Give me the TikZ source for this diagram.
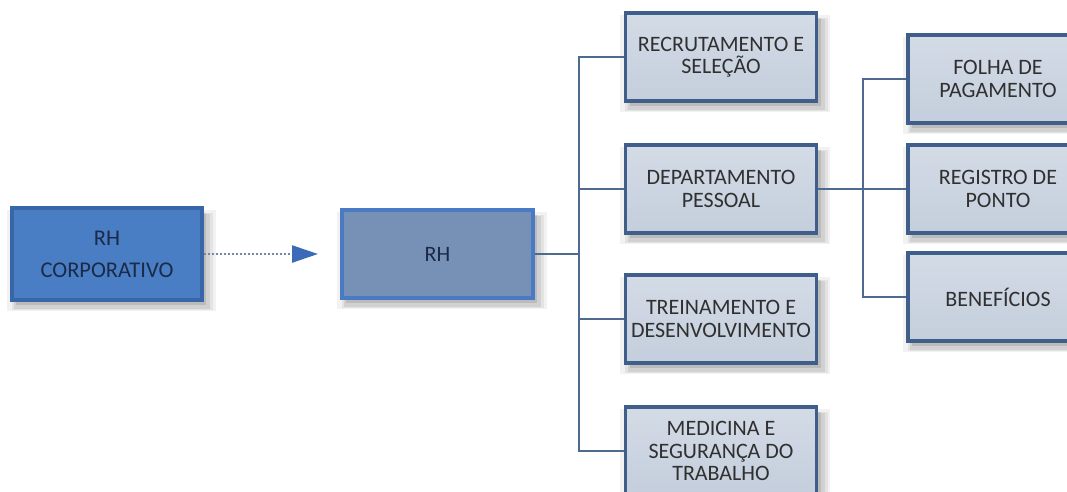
\documentclass[tikz,border=0pt]{standalone}
\usepackage{fontspec}
\setmainfont{Carlito}
\usepackage{tikz}
\usetikzlibrary{arrows.meta,positioning,shadows}

\definecolor{corpfill}{HTML}{4A7EC4}
\definecolor{corpline}{HTML}{3866A8}
\definecolor{rhfill}{HTML}{7791B6}
\definecolor{rhline}{HTML}{4A7AC4}
\definecolor{areafill}{HTML}{C4CEDC}
\definecolor{areatop}{HTML}{D3DBE6}
\definecolor{arealine}{HTML}{3F5F8A}
\definecolor{navytext}{HTML}{1A2A48}
\definecolor{graytext}{HTML}{303030}
\definecolor{linkcol}{HTML}{4F6A90}
\definecolor{tipcol}{HTML}{3A6AB8}

\tikzset{
    softshadow/.style={
        general shadow={fill=black, opacity=.05, shadow xshift=4pt, shadow yshift=-6pt, shadow scale=1.10},
        general shadow={fill=black, opacity=.06, shadow xshift=5pt, shadow yshift=-7pt, shadow scale=1.06},
        general shadow={fill=black, opacity=.08, shadow xshift=5pt, shadow yshift=-7pt, shadow scale=1.03},
        general shadow={fill=black, opacity=.10, shadow xshift=4pt, shadow yshift=-5pt, shadow scale=1.00}},
}

\begin{document}
\begin{tikzpicture}[
    x=1pt, y=-1pt,
    box/.style={draw, line width=3.2pt, align=center, inner sep=0pt,
        font=\fontsize{22}{22.5}\selectfont, softshadow},
    corp/.style={box, fill=corpfill, draw=corpline, text=navytext, minimum width=190pt, minimum height=92pt,
        font=\fontsize{22.5}{32}\selectfont},
    rh/.style={box, fill=rhfill, draw=rhline, text=navytext, minimum width=191pt, minimum height=88pt},
    area/.style={box, top color=areatop, bottom color=areafill, draw=arealine, text=graytext, minimum width=191pt, minimum height=88pt},
    sub/.style={area, minimum width=180pt},
    link/.style={draw=linkcol, line width=2pt},
    dotline/.style={draw=linkcol!80, line width=2.4pt, dash pattern=on 2.5pt off 1.5pt,
        -{Triangle[length=26pt, width=17pt, color=tipcol, fill=tipcol]}},
]
\useasboundingbox[fill=white] (0,0) rectangle (1067,491);
\clip (0,0) rectangle (1067,491);

% 1. Corporate level
\node[corp] (corp) at (107,254) {RH\\CORPORATIVO};
\coordinate (tip) at (318,254);
\draw[dotline] (corp.east) -- (tip);

% 2. Local HR
\node[rh] (rh) at (437.5,254) {RH};

% 3. Areas
\node[area] (m1) at (721,57)  {RECRUTAMENTO E\\SELEÇÃO};
\node[area] (m2) at (721,189) {DEPARTAMENTO\\PESSOAL};
\node[area] (m3) at (721,319) {TREINAMENTO E\\DESENVOLVIMENTO};
\node[area] (m4) at (721,451) {MEDICINA E\\SEGURANÇA DO\\TRABALHO};

% 4. Personnel department
\node[sub] (r1) at (998,79)  {FOLHA DE\\PAGAMENTO};
\node[sub] (r2) at (998,189) {REGISTRO DE\\PONTO};
\node[sub] (r3) at (998,297) {BENEFÍCIOS};

% Connectors
\coordinate (tr1) at (579,254);
\draw[link] (rh.east) -- (tr1);
\foreach \n in {m1,m2,m3,m4}
    \draw[link] (tr1) |- (\n.west);
\coordinate (tr2) at (863,189);
\draw[link] (m2.east) -- (tr2);
\foreach \n in {r1,r2,r3}
    \draw[link] (tr2) |- (\n.west);
\end{tikzpicture}
\end{document}
